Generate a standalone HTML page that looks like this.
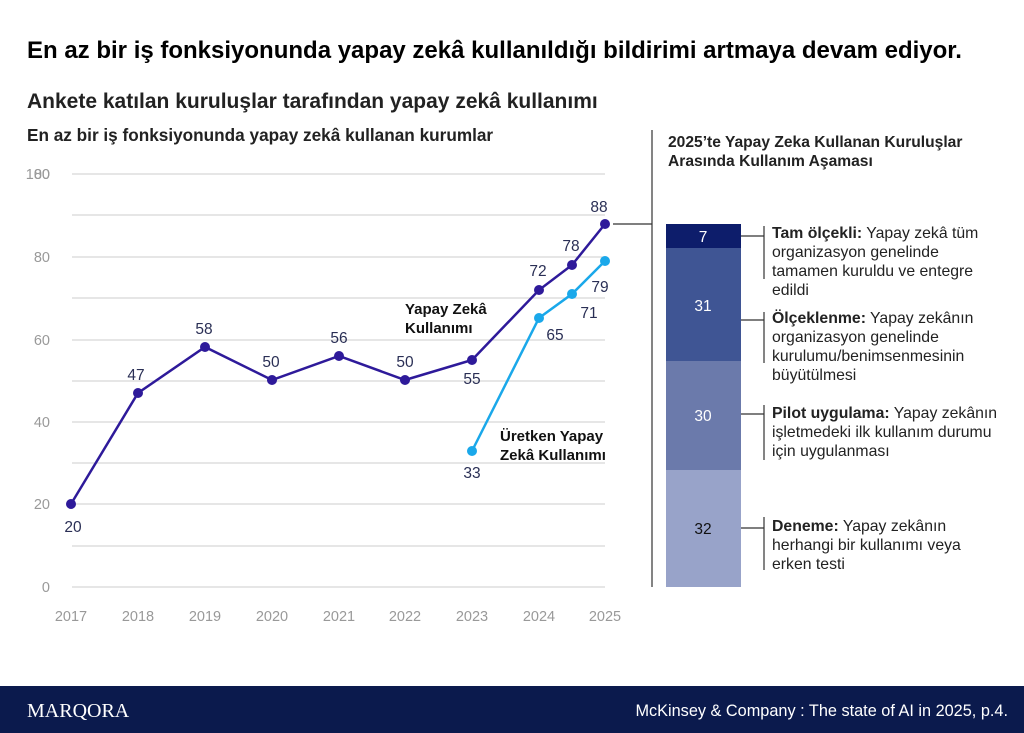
<!DOCTYPE html><html><head><meta charset="utf-8"><style>
body{margin:0;width:1024px;height:733px;background:#fff;font-family:"Liberation Sans",sans-serif;position:relative;overflow:hidden}
.a{position:absolute;white-space:nowrap}
</style></head><body>
<div class="a" style="left:27px;top:37px;font-size:24px;font-weight:bold;color:#000">En az bir iş fonksiyonunda yapay zekâ kullanıldığı bildirimi artmaya devam ediyor.</div>
<div class="a" style="left:27px;top:90px;font-size:21px;font-weight:bold;color:#222">Ankete katılan kuruluşlar tarafından yapay zekâ kullanımı</div>
<div class="a" style="left:27px;top:125px;font-size:17.2px;font-weight:bold;color:#222">En az bir iş fonksiyonunda yapay zekâ kullanan kurumlar</div>
<div class="a" style="left:668px;top:133px;font-size:15.6px;font-weight:bold;color:#222;line-height:19px">2025’te Yapay Zeka Kullanan Kuruluşlar<br>Arasında Kullanım Aşaması</div>
<svg class="a" style="left:0;top:0" width="1024" height="733" font-family="Liberation Sans, sans-serif">
<g stroke="#ccc" stroke-width="1">
<line x1="72" x2="605" y1="174" y2="174"/><line x1="72" x2="605" y1="215" y2="215"/><line x1="72" x2="605" y1="257" y2="257"/><line x1="72" x2="605" y1="298" y2="298"/><line x1="72" x2="605" y1="340" y2="340"/><line x1="72" x2="605" y1="381" y2="381"/><line x1="72" x2="605" y1="422" y2="422"/><line x1="72" x2="605" y1="463" y2="463"/><line x1="72" x2="605" y1="504" y2="504"/><line x1="72" x2="605" y1="546" y2="546"/><line x1="72" x2="605" y1="587" y2="587"/>
</g>
<g fill="#999" font-size="14.5" text-anchor="end">
<text x="50" y="179">100</text><text x="50" y="179">80</text><text x="50" y="262">80</text><text x="50" y="345">60</text><text x="50" y="427">40</text><text x="50" y="509">20</text><text x="50" y="592">0</text>
</g>
<g fill="#999" font-size="14.5" text-anchor="middle">
<text x="71" y="621">2017</text><text x="138" y="621">2018</text><text x="205" y="621">2019</text><text x="272" y="621">2020</text><text x="339" y="621">2021</text><text x="405" y="621">2022</text><text x="472" y="621">2023</text><text x="539" y="621">2024</text><text x="605" y="621">2025</text>
</g>
<polyline fill="none" stroke="#2e1a9a" stroke-width="2.5" points="71,504 138,393 205,347 272,380 339,356 405,380 472,360 539,290 572,265 605,224"/>
<polyline fill="none" stroke="#1aa8ea" stroke-width="2.5" points="472,451 539,318 572,294 605,261"/>
<g fill="#2e1a9a"><circle cx="71" cy="504" r="5"/><circle cx="138" cy="393" r="5"/><circle cx="205" cy="347" r="5"/><circle cx="272" cy="380" r="5"/><circle cx="339" cy="356" r="5"/><circle cx="405" cy="380" r="5"/><circle cx="472" cy="360" r="5"/><circle cx="539" cy="290" r="5"/><circle cx="572" cy="265" r="5"/><circle cx="605" cy="224" r="5"/></g>
<g fill="#1aa8ea"><circle cx="472" cy="451" r="5"/><circle cx="539" cy="318" r="5"/><circle cx="572" cy="294" r="5"/><circle cx="605" cy="261" r="5"/></g>
<g fill="#2a2f55" font-size="15.5" text-anchor="middle">
<text x="73" y="532">20</text><text x="136" y="380">47</text><text x="204" y="334">58</text><text x="271" y="367">50</text><text x="339" y="343">56</text><text x="405" y="367">50</text><text x="472" y="384">55</text><text x="538" y="276">72</text><text x="571" y="251">78</text><text x="599" y="212">88</text>
<text x="472" y="478">33</text><text x="555" y="340">65</text><text x="589" y="318">71</text><text x="600" y="292">79</text>
</g>
<g fill="#111" font-size="15" font-weight="bold"><text x="405" y="314">Yapay Zekâ</text><text x="405" y="333">Kullanımı</text><text x="500" y="441">Üretken Yapay</text><text x="500" y="460">Zekâ Kullanımı</text></g>
<line x1="652" x2="652" y1="130" y2="587" stroke="#333" stroke-width="1.2"/>
<line x1="613" x2="652" y1="224" y2="224" stroke="#333" stroke-width="1.2"/>
<rect x="666" y="224" width="75" height="24" fill="#0d1d6b"/>
<rect x="666" y="248" width="75" height="113" fill="#3f5594"/>
<rect x="666" y="361" width="75" height="109" fill="#6b7aab"/>
<rect x="666" y="470" width="75" height="117" fill="#98a3c9"/>
<g font-size="15.5" text-anchor="middle"><text x="703" y="242" fill="#fff">7</text><text x="703" y="311" fill="#fff">31</text><text x="703" y="421" fill="#fff">30</text><text x="703" y="534" fill="#111">32</text></g>
<g stroke="#333" stroke-width="1.2" fill="none">
<path d="M741 236H764M764 226V279"/><path d="M741 320H764M764 312V363"/><path d="M741 414H764M764 405V460"/><path d="M741 528H764M764 517V570"/>
</g>
<g font-size="15.8" fill="#222">
<text x="772" y="238"><tspan font-weight="bold">Tam ölçekli:</tspan> Yapay zekâ tüm</text><text x="772" y="257">organizasyon genelinde</text><text x="772" y="276">tamamen kuruldu ve entegre</text><text x="772" y="295">edildi</text>
<text x="772" y="323"><tspan font-weight="bold">Ölçeklenme:</tspan> Yapay zekânın</text><text x="772" y="342">organizasyon genelinde</text><text x="772" y="361">kurulumu/benimsenmesinin</text><text x="772" y="380">büyütülmesi</text>
<text x="772" y="418"><tspan font-weight="bold">Pilot uygulama:</tspan> Yapay zekânın</text><text x="772" y="437">işletmedeki ilk kullanım durumu</text><text x="772" y="456">için uygulanması</text>
<text x="772" y="531"><tspan font-weight="bold">Deneme:</tspan> Yapay zekânın</text><text x="772" y="550">herhangi bir kullanımı veya</text><text x="772" y="569">erken testi</text>
</g>
<rect x="0" y="686" width="1024" height="47" fill="#0b1a4d"/>
<text x="27" y="717" fill="#fff" font-size="20" font-family="Liberation Serif, serif">MARQORA</text>
<text x="1008" y="716" fill="#fff" font-size="16.3" text-anchor="end">McKinsey &amp; Company : The state of AI in 2025, p.4.</text>
</svg>
</body></html>
